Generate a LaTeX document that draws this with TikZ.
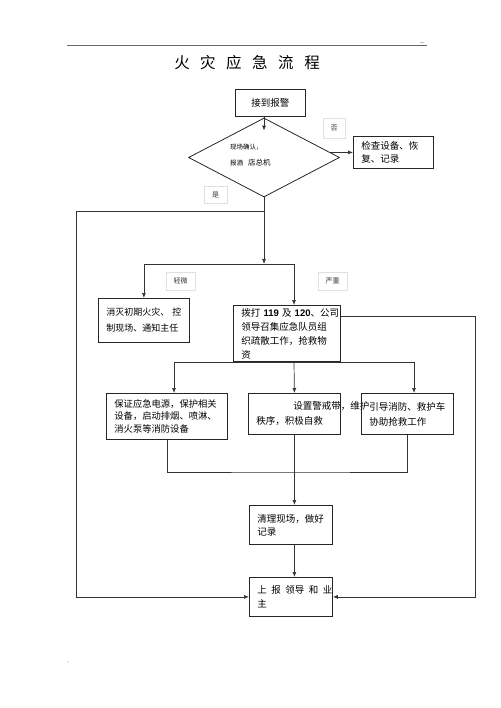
\documentclass[tikz,border=0pt]{standalone}
\usepackage{fontspec}
\setmainfont{Noto Sans CJK SC}
\newfontfamily\numfont{Liberation Sans}
\usetikzlibrary{shapes.geometric, arrows.meta, calc}

\begin{document}
\begin{tikzpicture}[x=1pt, y=-1pt,
  box/.style 2 args={draw=black!85, line width=0.8pt, anchor=north west, inner xsep=8pt, inner ysep=0pt,
    align=left, text width=#1, minimum height=#2, font=\fontsize{9.5}{13}\selectfont},
  tag/.style={draw=black!12, inner sep=0pt, text=black!80, font=\fontsize{7}{7}\selectfont},
  wire/.style={draw=black!80, line width=0.7pt},
  arr/.style={wire, -{Latex[length=5pt,width=4pt]}}]
  \useasboundingbox (0,0) rectangle (500,708);
  %fire emergency flow
  \draw[black!60, line width=0.7pt] (67,45.7) -- (427,45.7);
  \draw[black!25, line width=0.5pt] (420,42) -- (424,42);
  \fill[black!35] (68,662) circle (0.7);
  \node[font=\fontsize{15.5}{15.5}\selectfont] (title) at (247,63) {火\hspace{10.5pt}灾\hspace{10.5pt}应\hspace{10.5pt}急\hspace{10.5pt}流\hspace{10.5pt}程};

  \node[box={54pt}{27pt}, align=center] (alarm) at (235,89) {接到报警};
  \node[draw=black!85, line width=0.8pt, shape=diamond, minimum width=151pt, minimum height=79pt, inner sep=0pt] (dia) at (264,157.5) {};
  \node[anchor=west, align=left, inner sep=0pt, font=\fontsize{6.5}{16}\selectfont] (diatext) at (230,155) {现场确认，\\报酒\hspace{5pt}{\fontsize{7.5}{16}\selectfont 店总机}};
  \node[box={64pt}{32pt}] (check) at (353,136) {检查设备、恢\\复、记录};
  \node[box={75pt}{44pt}, font=\fontsize{9}{16}\selectfont] (minor) at (98,298) {消灭初期火灾、~控\\制现场、通知主任};
  \node[box={91pt}{56pt}, font=\fontsize{9.5}{14}\selectfont] (major) at (233,305) {拨打~{\numfont\bfseries 119}~及~{\numfont\bfseries 120}、公司\\领导召集应急队员组\\织疏散工作，抢救物\\资};
  \node[box={105pt}{46pt}, font=\fontsize{9.3}{12.5}\selectfont] (power) at (106,393) {保证应急电源，保护相关\\设备，启动排烟、喷淋、\\消火泵等消防设备};
  \node[box={76pt}{41pt}, font=\fontsize{9.5}{15}\selectfont] (warn) at (248,393) {\hspace*{37pt}设置警戒带，维护\\秩序，积极自救};
  \node[box={76pt}{41pt}, font=\fontsize{9.5}{15}\selectfont] (guide) at (361,393) {引导消防、救护车\\协助抢救工作};
  \node[box={67pt}{39pt}] (clean) at (249,505) {清理现场，做好\\记录};
  \node[box={67pt}{39pt}, font=\fontsize{9.5}{14}\selectfont] (report) at (249,577) {\mbox{上\hspace{4.5pt}报\hspace{4.5pt}领导\hspace{4.5pt}和\hspace{4.5pt}业}\\主};

  \node[tag, minimum width=22pt, minimum height=20pt] (no) at (334,128) {否};
  \node[tag, minimum width=23pt, minimum height=17pt] (yes) at (215.5,195) {是};
  \node[tag, minimum width=29pt, minimum height=18pt] (light) at (180.5,281) {轻微};
  \node[tag, minimum width=29pt, minimum height=18pt] (heavy) at (332.5,281) {严重};

  \coordinate (fork) at (264,211);
  \coordinate (split) at (264,264);
  \coordinate (majorin) at (294,305);
  \coordinate (branch) at (294,362);
  \coordinate (powerin) at (174,393);
  \coordinate (guidein) at (414,393);
  \coordinate (join) at (294,472);

  \draw[arr] (alarm.south -| dia.north) -- ($(dia.north)+(0,13)$);
  \draw[arr] ($(check.west -| dia.east)+(-10,0)$) -- (check.west);
  \draw[arr] (dia.south) -- (split);
  \draw[arr] (split) -| (minor.north);
  \draw[arr] (split) -| (majorin);
  \draw[arr] (fork) -- ++(-188,0) |- (report.west);
  \draw[arr] ($(major.north east)+(0,11)$) -- ++(135,0) |- (report.east);
  \draw[arr] (branch) -| (powerin);
  \draw[arr] (branch) -- (warn.north);
  \draw[arr] (branch) -| (guidein);
  \draw[wire] (power.south) |- (join) -| (guide.south);
  \draw[arr] (warn.south) -- (warn.south |- clean.north);
  \draw[arr] (clean.south -| warn.south) -- (report.north -| warn.south);
\end{tikzpicture}
\end{document}
